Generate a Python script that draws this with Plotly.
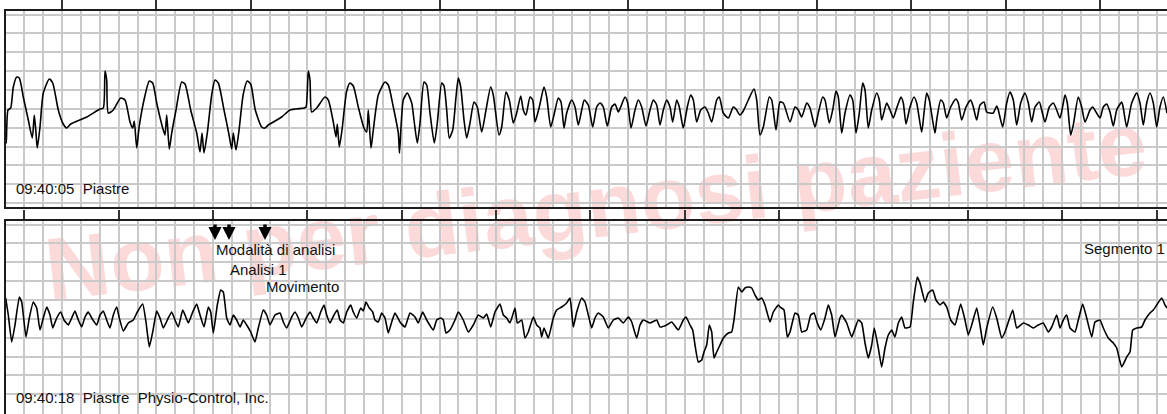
import plotly.graph_objects as go

# ---- Top strip (09:40:05), time in samples (~94.3 samples/s), amplitude in counts (~37.7 counts/mV)
top_t = [5.7, 6.3, 8, 10.7, 13.3, 16.7, 19.3, 23.3, 28.3, 32.3, 34.3, 36, 37.3, 40, 43.3, 49.3, 52.7, 58.3, 62.7, 66.7,
         70.7, 86.7, 100, 103.3, 105, 106.7, 108.3, 113.3, 120.7, 125, 130, 132.7, 134.3, 136.7, 139, 144, 149.3, 152.7,
         156.7, 162.7, 165, 166.7, 169.3, 171.7, 176, 181.7, 185, 190.7, 196.7, 200, 202, 204, 207.3, 211.7, 215, 218.3,
         224, 228.7, 231.7, 233.3, 236, 238.7, 243.3, 247.3, 250.7, 255.3, 261.7, 265, 268.3, 281.7, 290, 304, 306, 308.3,
         310, 311.7, 316.7, 325, 328.3, 333.3, 336, 337.3, 339.3, 342, 346.7, 350, 353.3, 358.3, 364, 366.7, 368.3, 371,
         373.3, 378.3, 385, 388.3, 393.3, 398.3, 399.5, 401,
         403.3, 407.3, 411.7, 414, 417.3, 420, 424, 426.7, 430, 434.3, 437.3, 441.7, 444, 446.7, 449.3, 452.7, 456, 458.3,
         460.7, 464, 466.7, 470, 474, 477.3, 481.7, 486, 490.7, 493.3, 499, 501.7, 506, 509.3, 513.3, 516.7, 520.7, 523.3,
         526, 530, 532.7, 535, 539.3, 544, 546.7, 550.7, 554, 558.3, 561, 564, 566.7, 571.7, 575, 578.3, 581.7, 584.3,
         588.3, 592.7, 596.7, 600, 603.3, 607.3, 611.7, 615, 618.3, 620.7, 625, 627.7, 631, 635, 638.3, 641.7, 646, 650,
         653.3, 656.7, 660, 663.3, 666.7, 670, 672.7, 676.7, 679.3, 683.3, 687.3, 690.7, 693.3, 696.7, 700.7, 705, 708.3,
         711.7, 716.7, 719.3, 723.3, 728.3, 733.3, 736, 740, 743.3, 748.3, 754, 756.7, 760, 763.3, 769.3, 771.7, 776,
         780, 783.3, 790, 795, 798.3, 801.7, 806.7, 810, 815, 818.3, 822.7, 825, 829.3, 832.7, 836, 838.3, 841.7, 845,
         850, 852.7, 856, 859.3, 862.7, 865, 868.3, 871.7, 876.7, 879.3, 881.7, 886.7, 890, 893.3, 896.7, 901, 903.3,
         906, 910, 914, 916.7, 921.7, 924, 926.7, 929.3, 935, 936.7, 940.7, 943.3, 946.7, 950.7, 956, 958.3, 961.7, 966,
         970.7, 973.3, 976.7, 980, 984, 986.7, 990, 993.3, 996.7, 998.3, 1002.7, 1006.7, 1010, 1013.3, 1016.7, 1020.7,
         1025, 1028.3, 1031.7, 1035, 1039.3, 1041.7, 1045, 1049.3, 1053.3, 1056.7, 1060, 1063.3, 1065, 1067.3, 1070.7,
         1073.3, 1078.3, 1081.7, 1085, 1090, 1092.7, 1096, 1100, 1103.3, 1106.7, 1110, 1113.3, 1116.7, 1121.7, 1123.3,
         1126.7, 1131.7, 1136.7, 1140, 1143.3, 1146.7, 1150, 1153.3, 1156.7, 1160, 1163.3, 1167]
top_v = [5, -15, 18, 20, 41, 51, 50, 31, 8, -10, 13, -5, -20, 1, 35, 49, 45, 18, 5, 0,
         4, 11, 19, 20, 57, 48, 15, 18, 30, 28, 6, 0, 7, -20, 0, 28, 47, 45,
         25, 0, -7, 13, -21, -5, 18, 46, 44, 18, -5, -24, -5, -25, -5, 33, 48, 45,
         18, -5, -21, -5, -22, -5, 34, 47, 44, 18, 1, 0, 3, 11, 18, 20, 21, 57,
         48, 16, 20, 31, 28, 6, -9, 4, -19, -2, 37, 45, 42, 21, 0, -4, 18, -20,
         -2, 33, 46, 43, 21, -5, -25, 1,
         28, 35, 25, 8, -15, 5, 46, 43, 15, -15, 5, 45, 42, 18, -10, -2, 31, 50,
         41, 8, -10, 5, 26, 21, -4, 18, 41, 33, -7, 1, 36, 28, 5, 15, 32, 18,
         13, 31, 28, 6, 21, 41, 31, 1, 13, 30, 26, 0, 15, 28, 21, 3, 18, 28,
         23, 1, 21, 25, 21, 2, 21, 24, 16, 21, 31, 25, 0, 18, 28, 21, 2, 18,
         28, 23, 3, 18, 28, 21, 6, 28, 21, 0, 21, 33, 28, 6, 18, 21, 15,
         6, 28, 31, 15, 10, 21, 19, 13, 17, 28, 39, 28, -7, 1, 31, 28, -2,
         26, 25, 6, 21, 18, 11, 25, 20, 1, 15, 31, 28, 5, 18, 37, 31, -5, 15,
         33, 28, -5, 15, 45, 38, 0, 18, 35, 28, 8, 25, 18, 10, 20, 31, 25,
         4, 21, 31, 25, -4, 15, 35, 28, -5, 8, 28, 25, 10, 21, 29, 25, 8, 21,
         28, 21, 8, 23, 26, 16, 15, 15, 22, 18, 1, 25, 36, 28, 3, 25,
         35, 25, 6, 21, 26, 18, 6, 21, 25, 18, 10, 25, 33, 25, -7,
         3, 31, 21, 6, 18, 21, 16, 10, 21, 24, 16, 2, 18, 26, 20,
         1, 25, 35, 25, 3, 25, 35, 25, 1, 21, 31, 15]

# ---- Bottom strip (09:40:18)
bot_t = [5.7, 8.3, 11.7, 15, 19.3, 21.7, 26, 29.3, 33.3, 36.7, 40, 43.3, 46.7, 50, 52.7, 56.7, 60.7, 64, 68.3, 71.7,
         75, 78.3, 81.7, 85, 88.3, 91.7, 96.7, 100, 103.3, 106.7, 110, 113.3, 116.7, 119.3, 123.3, 128.3, 133.3, 137.3,
         142.7, 146, 149.3, 152.7, 156.7, 160, 163.3, 168.3, 171.7, 175, 178.3, 182.7, 185, 188.3, 192.7, 196.7, 200,
         204, 208.3, 210.7, 213.3, 217.3, 220.7, 223.3, 226.7, 230, 233.3, 236.7, 240, 243.3, 246.7, 250.7, 255, 258.3,
         263.3, 266.7, 270, 275, 280, 283.3, 286.7, 291.7, 295, 298.3, 301.7, 306.7, 310, 313.3, 316.7, 320.7, 324,
         326.7, 330, 334, 337.3, 340, 343.3, 346.7, 350.7, 353.3, 356.7, 360.7, 363.3, 366, 369.3, 372.7, 375, 378.3,
         381.7, 385, 388.3, 391.7, 395,
         400, 405, 410, 415, 418.3, 422.7, 426.7, 433.3, 436.7, 440.7, 443.3, 446, 450, 455, 458.3, 463.3, 468.3, 473.3,
         478.3, 483.3, 486.7, 490.7, 495, 500, 503.3, 506.7, 510, 515, 517.3, 521.7, 525, 528.3, 533.3, 536.7, 540,
         541.7, 544, 548.3, 553.3, 556.7, 561.7, 566.7, 570, 573.3, 576.7, 581.7, 585, 588.3, 591.7, 595, 598.3, 603.3,
         608.3, 613.3, 618.3, 623.3, 628.3, 631.7, 636.7, 640, 643.3, 650, 656.7, 660, 666.7, 671.7, 678.3, 683.3, 686,
         690, 692.7, 695, 698.3, 701.7, 704, 706.7, 709.3, 711.7, 714, 716.7, 720, 723.3, 728.3, 731.7, 734, 738.3,
         741.7, 745, 748.3, 751.7, 755, 758.3, 761.7, 765, 770, 773.3, 778.3,
         780, 784, 787.3, 790, 795, 798.3, 801.7, 806.7, 810.7, 814, 817.3, 820.7, 825, 828.3, 831.7, 835, 840, 841.7,
         846.7, 851.7, 858.3, 861.7, 865, 868.3, 871.7, 874.3, 878.3, 881.7, 885, 888.3, 891.7, 895, 898.3, 901.7, 905,
         910, 913.3, 917.3, 920, 925, 928.3, 932.7, 936, 940, 943.3, 946.7, 950.7, 955, 960.7, 965, 968.3, 971.7,
         976.7, 980, 983.3, 986.7, 992.7, 996.7, 1001.7, 1005, 1012.7, 1016.7, 1023.3, 1028.3, 1033.3, 1038.3, 1043.3,
         1048.3, 1051.7, 1056.7, 1060, 1063.3, 1066.7, 1070, 1075, 1078.3, 1082.7, 1086.7, 1091.7, 1095, 1100, 1103.3,
         1108.3, 1113.3, 1116.7, 1121.7, 1126.7, 1130, 1132.7, 1136.7, 1141.7, 1145, 1150, 1153.3, 1156.7, 1161.7, 1165,
         1167]
bot_v = [40, 23, -4, 13, 41, 36, 1, 20, 36, 30, 8, 20, 31, 23, 10, 20, 26, 18, 13, 20,
         27, 18, 11, 21, 26, 20, 13, 23, 27, 18, 10, 23, 31, 20, 7, 15, 18, 26,
         34, 16, -9, 6, 27, 20, 10, 20, 26, 18, 11, 28, 23, 15, 26, 34, 23,
         11, 31, 26, 5, 33, 48, 46, 20, 13, 23, 18, 11, 18, 13, 6, -4, 10,
         28, 23, 13, 23, 25, 16, 10, 21, 26, 20, 11, 21, 26, 20, 15, 26, 33,
         23, 15, 23, 28, 18, 15, 26, 33, 26, 20, 30, 27, 36, 30, 26, 18, 16,
         25, 20, 5, 16, 25,
         16, 11, 25, 21, 15, 26, 18, 8, 18, 20, 18, 5, 8, 18, 26, 18, 6, 13,
         23, 20, 24, 11, 26, 34, 23, 20, 15, 30, 15, 18, 0, 6, 21, 13, 10,
         1, 10, 0, 20, 28, 31, 35, 40, 11, 26, 40, 36, 23, 10, 20, 25, 21,
         10, 18, 20, 15, 21, 16, 0, 13, 18, 15, 18, 11, 13, 16, 8, 18, 21,
         13, 8, -7, -24, -22, -14, -7, 13, 6, -20, -14, -7, 0, 5, 6, 18, 51,
         46, 50, 51, 50, 43, 38, 40, 33, 16, 26, 33,
         31, 28, 1, 6, 25, 23, 6, 8, 23, 25, 15, 8, 20, 33, 23, 1, 20, 23,
         15, 1, 18, 15, -5, -20, -7, 10, -10, -29, -10, 3, 8, 1, 15, 21, 10,
         11, 36, 61, 55, 36, 45, 48, 38, 33, 36, 31, 18, 13, 34, 18, 3, 13,
         30, 13, -7, 10, 31, 20, 0, 6, 28, 10, 15, 13, 10, 13, 15,
         6, 11, 23, 10, 18, 23, 10, 6, 18, 34, 20, 1, 16, 18, 10,
         0, -5, -10, -29, -19, -14, 8, 10, 11, 18, 25, 28, 33, 40, 33,
         30]

# ---- Labels
strip1_label = "09:40:05\u00a0\u00a0Piastre"
strip2_label = "09:40:18\u00a0\u00a0Piastre\u00a0\u00a0Physio-Control, Inc."
event_t = [215, 229, 265, 1170]
event_text = ["Modalità di analisi", "Analisi 1", "Movimento", "Segmento 1"]
watermark = "Non per diagnosi paziente"

W, H = 1167, 414
X0 = 5.5
GRID = 18.87          # samples per 0.2 s box / counts per 0.5 mV box
MAJOR = 5 * GRID      # samples per second
GRIDC = "#c9c9c9"
LINEC = "#1c1c1c"

fig = go.Figure()
fig.add_trace(go.Scatter(x=top_t, y=top_v, mode="lines",
                         line=dict(color="#000000", width=1.6, shape="spline", smoothing=0.6),
                         xaxis="x", yaxis="y", hoverinfo="skip", showlegend=False))
fig.add_trace(go.Scatter(x=bot_t, y=bot_v, mode="lines",
                         line=dict(color="#000000", width=1.6, shape="spline", smoothing=0.4),
                         xaxis="x2", yaxis="y2", hoverinfo="skip", showlegend=False))

xdom = [X0 / W, 1.0]


def xax(nbox, anchor, mirror):
    return dict(range=[X0, 1167], domain=xdom, anchor=anchor, side="top",
                tickmode="linear", tick0=X0 + nbox * GRID, dtick=MAJOR, ticks="outside", ticklen=9,
                tickwidth=2, tickcolor="#333333", showticklabels=False,
                showgrid=True, gridcolor=GRIDC, gridwidth=1.5,
                minor=dict(tick0=X0, dtick=GRID, showgrid=True, gridcolor=GRIDC, gridwidth=1.5, ticks=""),
                showline=True, mirror=mirror, linecolor=LINEC, linewidth=2, zeroline=False, fixedrange=True)


def yax(rng, dom, anchor):
    return dict(range=rng, domain=dom, anchor=anchor, tickmode="linear", tick0=0.28, dtick=GRID,
                showticklabels=False, ticks="", showgrid=True, gridcolor=GRIDC, gridwidth=1.5,
                showline=True, mirror=False, linecolor=LINEC, linewidth=2, zeroline=False, fixedrange=True)


fig.update_layout(
    width=W, height=H, margin=dict(l=0, r=0, t=0, b=0),
    paper_bgcolor="white", plot_bgcolor="rgba(0,0,0,0)",
    xaxis=xax(3, "y", True), yaxis=yax([-78.7, 117], [1 - 206.7 / H, 1 - 11 / H], "x"),
    xaxis2=xax(1, "y2", False), yaxis2=yax([-76, 117.3], [0, 1 - 220.7 / H], "x2"),
    font=dict(family="Liberation Sans, Arial, sans-serif", size=15, color="#111111"),
)

# watermark under the grid
fig.add_shape(type="line", xref="paper", yref="paper",
              x0=45 / W, y0=1 - 262 / H, x1=1145 / W, y1=1 - 134 / H,
              line=dict(width=0, color="rgba(0,0,0,0)"), layer="below",
              label=dict(text=watermark, textposition="middle", yanchor="middle",
                         font=dict(family="Liberation Sans, Arial, sans-serif", size=89,
                                   color="#fcdada", weight="bold")))

ann = []
ann.append(dict(x=14 / W, y=1 - 188 / H, xref="paper", yref="paper", text=strip1_label,
                showarrow=False, xanchor="left", yanchor="middle"))
ann.append(dict(x=14 / W, y=1 - 397.5 / H, xref="paper", yref="paper", text=strip2_label,
                showarrow=False, xanchor="left", yanchor="middle"))
text_y = [249, 269, 286.5, 248]
for t, txt, ty in zip(event_t, event_text, text_y):
    # arrow marker on the bottom strip at the event time
    ann.append(dict(x=t, y=338 - 240, xref="x2", yref="y2", text="", showarrow=True,
                    ax=0, ay=-17, arrowhead=2, arrowsize=0.75, arrowwidth=3.5, arrowcolor="#000000"))
    if txt == "Segmento 1":
        ann.append(dict(x=1, y=1 - ty / H, xref="paper", yref="paper", text=txt,
                        showarrow=False, xanchor="right", yanchor="middle", xshift=0))
    else:
        ann.append(dict(x=t, y=1 - ty / H, xref="x2", yref="paper", text=txt,
                        showarrow=False, xanchor="left", yanchor="middle", xshift=-1))
fig.update_layout(annotations=ann)

fig.write_html("out.html", config={"displayModeBar": False},
               post_script="document.body.style.margin='0';document.body.style.padding='0';")
